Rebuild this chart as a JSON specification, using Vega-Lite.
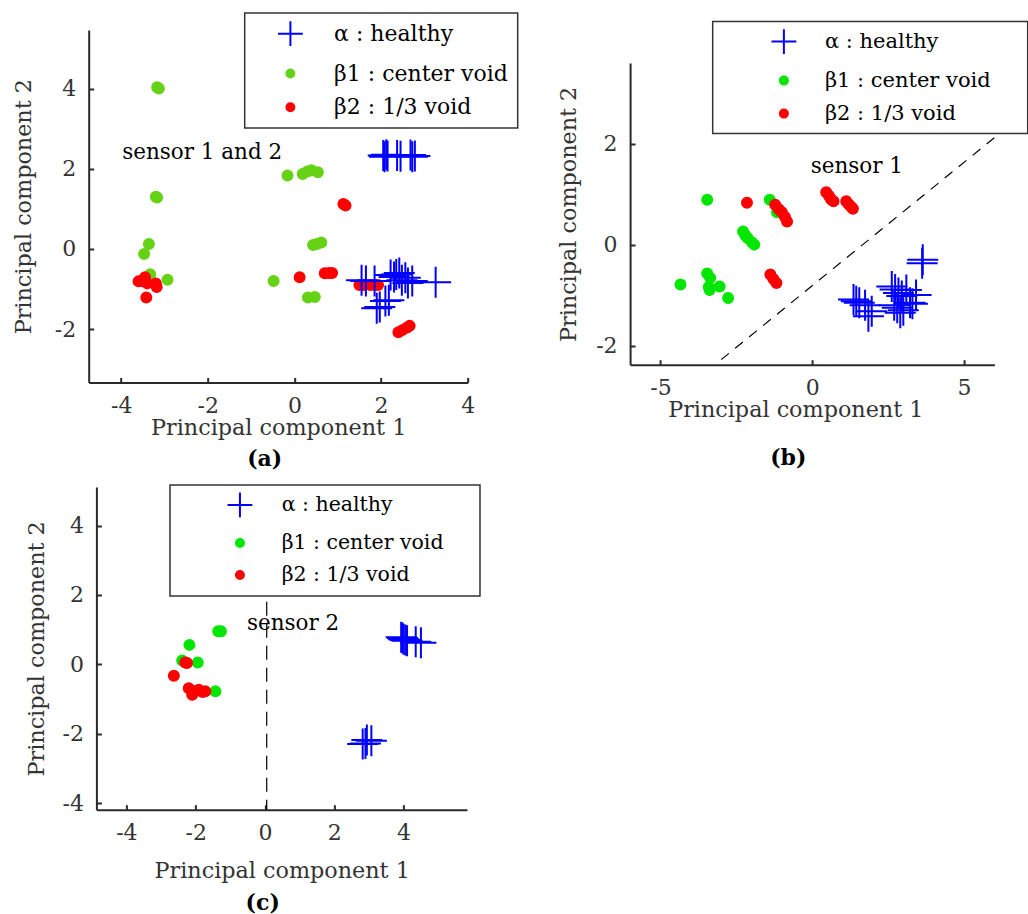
{
  "$schema": "https://vega.github.io/schema/vega-lite/v6.json",
  "padding": {"left": 12.7, "top": 12, "right": 0, "bottom": 0},
  "config": {
    "view": {"stroke": null},
    "font": "DejaVu Serif",
    "axis": {
      "grid": false,
      "domainColor": "#2a2a2a",
      "domainWidth": 2,
      "tickColor": "#2a2a2a",
      "tickWidth": 2,
      "tickSize": -5,
      "labelFont": "DejaVu Serif",
      "labelFontSize": 22,
      "labelColor": "#333",
      "labelFlush": false,
      "labelPadding": 18,
      "labelExpr": "'' + datum.value",
      "titleFont": "DejaVu Serif",
      "titleFontSize": 22.3,
      "titleFontWeight": "normal",
      "titleColor": "#333",
      "titlePadding": 0
    },
    "legend": {
      "title": null,
      "orient": "none",
      "strokeColor": "#333",
      "strokeWidth": 1.5,
      "fillColor": "white",
      "labelFont": "DejaVu Serif",
      "labelColor": "black",
      "labelLimit": 600,
      "symbolStrokeWidth": 2,
      "symbolSize": 64
    },
    "title": {"font": "DejaVu Serif", "fontSize": 22, "fontWeight": "bold", "color": "#000", "orient": "bottom"}
  },
  "resolve": {"scale": {"fill": "independent", "stroke": "independent", "shape": "independent"}, "legend": {"fill": "independent", "stroke": "independent", "shape": "independent"}},
  "vconcat": [
    {
      "resolve": {"scale": {"fill": "independent", "stroke": "independent", "shape": "independent"}, "legend": {"fill": "independent", "stroke": "independent", "shape": "independent"}},
      "hconcat": [
        {
          "width": 379,
          "height": 352.4,
          "title": {"text": "(a)", "orient": "bottom", "offset": 10, "dx": -13.5},
          "encoding": {
            "x": {"field": "x", "type": "quantitative", "scale": {"domain": [-4.75, 4.0], "nice": false, "zero": false}, "axis": {"values": [-4, -2, 0, 2, 4], "title": "Principal component 1"}},
            "y": {"field": "y", "type": "quantitative", "scale": {"domain": [-3.33, 5.46], "nice": false, "zero": false}, "axis": {"values": [-2, 0, 2, 4], "title": "Principal component 2", "titlePadding": 18.3}}
          },
          "layer": [
            {
              "data": {"values": [
                {"x": -3.17, "y": 4.03, "cls": "β1 : center void"},
                {"x": -3.13, "y": 4.0, "cls": "β1 : center void"},
                {"x": -3.2, "y": 1.3, "cls": "β1 : center void"},
                {"x": -3.17, "y": 1.28, "cls": "β1 : center void"},
                {"x": -3.36, "y": 0.12, "cls": "β1 : center void"},
                {"x": -3.47, "y": -0.13, "cls": "β1 : center void"},
                {"x": -3.33, "y": -0.63, "cls": "β1 : center void"},
                {"x": -2.93, "y": -0.77, "cls": "β1 : center void"},
                {"x": -0.48, "y": -0.8, "cls": "β1 : center void"},
                {"x": -0.16, "y": 1.83, "cls": "β1 : center void"},
                {"x": 0.19, "y": 1.87, "cls": "β1 : center void"},
                {"x": 0.3, "y": 1.93, "cls": "β1 : center void"},
                {"x": 0.39, "y": 1.96, "cls": "β1 : center void"},
                {"x": 0.54, "y": 1.91, "cls": "β1 : center void"},
                {"x": 0.43, "y": 0.1, "cls": "β1 : center void"},
                {"x": 0.52, "y": 0.12, "cls": "β1 : center void"},
                {"x": 0.62, "y": 0.16, "cls": "β1 : center void"},
                {"x": 0.31, "y": -1.21, "cls": "β1 : center void"},
                {"x": 0.47, "y": -1.2, "cls": "β1 : center void"},
                {"x": -3.6, "y": -0.81, "cls": "β2 : 1/3 void"},
                {"x": -3.52, "y": -0.8, "cls": "β2 : 1/3 void"},
                {"x": -3.45, "y": -0.71, "cls": "β2 : 1/3 void"},
                {"x": -3.4, "y": -0.86, "cls": "β2 : 1/3 void"},
                {"x": -3.2, "y": -0.86, "cls": "β2 : 1/3 void"},
                {"x": -3.18, "y": -0.95, "cls": "β2 : 1/3 void"},
                {"x": -3.42, "y": -1.21, "cls": "β2 : 1/3 void"},
                {"x": 0.12, "y": -0.71, "cls": "β2 : 1/3 void"},
                {"x": 0.7, "y": -0.61, "cls": "β2 : 1/3 void"},
                {"x": 0.79, "y": -0.6, "cls": "β2 : 1/3 void"},
                {"x": 0.87, "y": -0.6, "cls": "β2 : 1/3 void"},
                {"x": 1.13, "y": 1.12, "cls": "β2 : 1/3 void"},
                {"x": 1.18, "y": 1.08, "cls": "β2 : 1/3 void"},
                {"x": 1.5, "y": -0.9, "cls": "β2 : 1/3 void"},
                {"x": 1.6, "y": -0.9, "cls": "β2 : 1/3 void"},
                {"x": 1.75, "y": -0.9, "cls": "β2 : 1/3 void"},
                {"x": 1.85, "y": -0.9, "cls": "β2 : 1/3 void"},
                {"x": 1.93, "y": -0.9, "cls": "β2 : 1/3 void"},
                {"x": 2.4, "y": -2.08, "cls": "β2 : 1/3 void"},
                {"x": 2.5, "y": -2.02, "cls": "β2 : 1/3 void"},
                {"x": 2.6, "y": -1.96, "cls": "β2 : 1/3 void"},
                {"x": 2.66, "y": -1.92, "cls": "β2 : 1/3 void"},
                {"x": 2.05, "y": 2.33, "cls": "α : healthy"},
                {"x": 2.08, "y": 2.3, "cls": "α : healthy"},
                {"x": 2.12, "y": 2.35, "cls": "α : healthy"},
                {"x": 2.15, "y": 2.32, "cls": "α : healthy"},
                {"x": 2.37, "y": 2.33, "cls": "α : healthy"},
                {"x": 2.45, "y": 2.31, "cls": "α : healthy"},
                {"x": 2.68, "y": 2.34, "cls": "α : healthy"},
                {"x": 2.72, "y": 2.3, "cls": "α : healthy"},
                {"x": 2.78, "y": 2.32, "cls": "α : healthy"},
                {"x": 1.55, "y": -0.78, "cls": "α : healthy"},
                {"x": 1.65, "y": -0.8, "cls": "α : healthy"},
                {"x": 1.85, "y": -0.8, "cls": "α : healthy"},
                {"x": 1.9, "y": -1.48, "cls": "α : healthy"},
                {"x": 1.97, "y": -1.45, "cls": "α : healthy"},
                {"x": 2.1, "y": -1.3, "cls": "α : healthy"},
                {"x": 2.18, "y": -1.28, "cls": "α : healthy"},
                {"x": 2.22, "y": -0.65, "cls": "α : healthy"},
                {"x": 2.3, "y": -0.7, "cls": "α : healthy"},
                {"x": 2.35, "y": -0.64, "cls": "α : healthy"},
                {"x": 2.42, "y": -0.6, "cls": "α : healthy"},
                {"x": 2.48, "y": -0.78, "cls": "α : healthy"},
                {"x": 2.56, "y": -0.72, "cls": "α : healthy"},
                {"x": 2.62, "y": -0.85, "cls": "α : healthy"},
                {"x": 2.72, "y": -0.8, "cls": "α : healthy"},
                {"x": 3.26, "y": -0.83, "cls": "α : healthy"}
              ]},
              "mark": {"type": "point", "filled": true, "size": 100, "strokeWidth": 2, "opacity": 1},
              "encoding": {
                "fill": {"field": "cls", "type": "nominal", "scale": {"domain": ["α : healthy", "β1 : center void", "β2 : 1/3 void"], "range": ["#0000ff", "#66d216", "#ff0000"]},
                  "legend": {"legendX": 156, "legendY": -17, "padding": 9.7, "symbolOffset": 25, "labelOffset": 32.7, "labelFontSize": 22, "rowPadding": 11.8}},
                "stroke": {"field": "cls", "type": "nominal", "scale": {"domain": ["α : healthy", "β1 : center void", "β2 : 1/3 void"], "range": ["#0000ff", "#66d216", "#ff0000"]},
                  "legend": {"legendX": 156, "legendY": -17, "padding": 9.7, "symbolOffset": 25, "labelOffset": 32.7, "labelFontSize": 22, "rowPadding": 11.8}},
                "shape": {"field": "cls", "type": "nominal", "scale": {"domain": ["α : healthy", "β1 : center void", "β2 : 1/3 void"], "range": ["M-3.1,0H3.1M0,-3.1V3.1", "circle", "circle"]},
                  "legend": {"legendX": 156, "legendY": -17, "padding": 9.7, "symbolOffset": 25, "labelOffset": 32.7, "labelFontSize": 22, "rowPadding": 11.8}}
              }
            },
            {
              "data": {"values": [{"x": -2.13, "y": 2.23, "t": "sensor 1 and 2"}]},
              "mark": {"type": "text", "font": "DejaVu Serif", "fontSize": 21.5, "baseline": "alphabetic", "align": "center", "color": "#000"},
              "encoding": {"text": {"field": "t"}}
            }
          ]
        },
        {
          "resolve": {"scale": {"fill": "independent", "stroke": "independent", "shape": "independent"}, "legend": {"fill": "independent", "stroke": "independent", "shape": "independent"}},
          "vconcat": [
            {"width": 1, "height": 1, "data": {"values": []}, "mark": "point"},
            {
              "width": 364.3,
              "height": 301.7,
              "title": {"text": "(b)", "orient": "bottom", "offset": 27.5, "dx": -24},
              "encoding": {
                "x": {"field": "x", "type": "quantitative", "scale": {"domain": [-6, 6], "nice": false, "zero": false}, "axis": {"values": [-5, 0, 5], "title": "Principal component 1", "titleX": 165.2}},
                "y": {"field": "y", "type": "quantitative", "scale": {"domain": [-2.38, 3.6], "nice": false, "zero": false}, "axis": {"values": [-2, 0, 2], "title": "Principal component 2", "titlePadding": 15}}
              },
              "layer": [
                {
                  "data": {"values": [{"x": -3.0, "y": -2.28}, {"x": 6.0, "y": 2.12}]},
                  "mark": {"type": "line", "color": "#000", "strokeWidth": 1.2, "strokeDash": [10, 8]},
                  "encoding": {}
                },
                {
                  "data": {"values": [
                    {"x": -3.46, "y": 0.89, "cls": "β1 : center void"},
                    {"x": -1.4, "y": 0.89, "cls": "β1 : center void"},
                    {"x": -1.16, "y": 0.64, "cls": "β1 : center void"},
                    {"x": -2.28, "y": 0.26, "cls": "β1 : center void"},
                    {"x": -2.2, "y": 0.18, "cls": "β1 : center void"},
                    {"x": -2.13, "y": 0.13, "cls": "β1 : center void"},
                    {"x": -1.98, "y": 0.04, "cls": "β1 : center void"},
                    {"x": -1.91, "y": 0.0, "cls": "β1 : center void"},
                    {"x": -3.46, "y": -0.57, "cls": "β1 : center void"},
                    {"x": -3.36, "y": -0.66, "cls": "β1 : center void"},
                    {"x": -3.41, "y": -0.84, "cls": "β1 : center void"},
                    {"x": -3.38, "y": -0.9, "cls": "β1 : center void"},
                    {"x": -3.05, "y": -0.83, "cls": "β1 : center void"},
                    {"x": -4.34, "y": -0.79, "cls": "β1 : center void"},
                    {"x": -2.77, "y": -1.06, "cls": "β1 : center void"},
                    {"x": -2.15, "y": 0.83, "cls": "β2 : 1/3 void"},
                    {"x": -1.22, "y": 0.79, "cls": "β2 : 1/3 void"},
                    {"x": -1.1, "y": 0.7, "cls": "β2 : 1/3 void"},
                    {"x": -1.0, "y": 0.64, "cls": "β2 : 1/3 void"},
                    {"x": -0.9, "y": 0.55, "cls": "β2 : 1/3 void"},
                    {"x": -0.83, "y": 0.46, "cls": "β2 : 1/3 void"},
                    {"x": -1.38, "y": -0.59, "cls": "β2 : 1/3 void"},
                    {"x": -1.28, "y": -0.68, "cls": "β2 : 1/3 void"},
                    {"x": -1.18, "y": -0.76, "cls": "β2 : 1/3 void"},
                    {"x": 0.46, "y": 1.04, "cls": "β2 : 1/3 void"},
                    {"x": 0.55, "y": 0.97, "cls": "β2 : 1/3 void"},
                    {"x": 0.62, "y": 0.9, "cls": "β2 : 1/3 void"},
                    {"x": 0.7, "y": 0.86, "cls": "β2 : 1/3 void"},
                    {"x": 1.12, "y": 0.86, "cls": "β2 : 1/3 void"},
                    {"x": 1.2, "y": 0.8, "cls": "β2 : 1/3 void"},
                    {"x": 1.28, "y": 0.75, "cls": "β2 : 1/3 void"},
                    {"x": 1.34, "y": 0.71, "cls": "β2 : 1/3 void"},
                    {"x": 3.64, "y": -0.3, "cls": "α : healthy"},
                    {"x": 3.62, "y": -0.37, "cls": "α : healthy"},
                    {"x": 1.36, "y": -1.09, "cls": "α : healthy"},
                    {"x": 1.45, "y": -1.12, "cls": "α : healthy"},
                    {"x": 1.55, "y": -1.15, "cls": "α : healthy"},
                    {"x": 1.74, "y": -1.2, "cls": "α : healthy"},
                    {"x": 1.96, "y": -1.32, "cls": "α : healthy"},
                    {"x": 1.85, "y": -1.42, "cls": "α : healthy"},
                    {"x": 2.62, "y": -0.83, "cls": "α : healthy"},
                    {"x": 2.73, "y": -0.89, "cls": "α : healthy"},
                    {"x": 2.84, "y": -0.96, "cls": "α : healthy"},
                    {"x": 2.95, "y": -1.02, "cls": "α : healthy"},
                    {"x": 3.22, "y": -1.15, "cls": "α : healthy"},
                    {"x": 3.42, "y": -1.0, "cls": "α : healthy"},
                    {"x": 2.8, "y": -1.25, "cls": "α : healthy"},
                    {"x": 2.9, "y": -1.35, "cls": "α : healthy"},
                    {"x": 3.0, "y": -1.3, "cls": "α : healthy"},
                    {"x": 2.7, "y": -1.2, "cls": "α : healthy"},
                    {"x": 3.1, "y": -0.9, "cls": "α : healthy"},
                    {"x": 3.3, "y": -1.17, "cls": "α : healthy"}
                  ]},
                  "mark": {"type": "point", "filled": true, "size": 100, "strokeWidth": 2, "opacity": 1},
                  "encoding": {
                    "fill": {"field": "cls", "type": "nominal", "scale": {"domain": ["α : healthy", "β1 : center void", "β2 : 1/3 void"], "range": ["#0000ff", "#00e600", "#ff0000"]},
                      "legend": {"legendX": 82.6, "legendY": -41.6, "padding": 9.7, "symbolOffset": 51, "labelOffset": 30.5, "labelFontSize": 21, "rowPadding": 11, "labelExpr": "datum.label + '\u00a0\u00a0\u00a0\u00a0\u200b'"}},
                    "stroke": {"field": "cls", "type": "nominal", "scale": {"domain": ["α : healthy", "β1 : center void", "β2 : 1/3 void"], "range": ["#0000ff", "#00e600", "#ff0000"]},
                      "legend": {"legendX": 82.6, "legendY": -41.6, "padding": 9.7, "symbolOffset": 51, "labelOffset": 30.5, "labelFontSize": 21, "rowPadding": 11, "labelExpr": "datum.label + '\u00a0\u00a0\u00a0\u00a0\u200b'"}},
                    "shape": {"field": "cls", "type": "nominal", "scale": {"domain": ["α : healthy", "β1 : center void", "β2 : 1/3 void"], "range": ["M-3.1,0H3.1M0,-3.1V3.1", "circle", "circle"]},
                      "legend": {"legendX": 82.6, "legendY": -41.6, "padding": 9.7, "symbolOffset": 51, "labelOffset": 30.5, "labelFontSize": 21, "rowPadding": 11, "labelExpr": "datum.label + '\u00a0\u00a0\u00a0\u00a0\u200b'"}}
                  }
                },
                {
                  "data": {"values": [{"x": 1.47, "y": 1.42, "t": "sensor 1"}]},
                  "mark": {"type": "text", "font": "DejaVu Serif", "fontSize": 21.5, "baseline": "alphabetic", "align": "center", "color": "#000"},
                  "encoding": {"text": {"field": "t"}}
                }
              ]
            }
          ],
          "spacing": -11
        }
      ],
      "spacing": 38.4
    },
    {
      "resolve": {"scale": {"fill": "independent", "stroke": "independent", "shape": "independent"}, "legend": {"fill": "independent", "stroke": "independent", "shape": "independent"}},
      "hconcat": [
        {"width": 1, "height": 1, "data": {"values": []}, "mark": "point"},
        {
          "width": 370.6,
          "height": 322.7,
          "title": {"text": "(c)", "orient": "bottom", "offset": 11, "dx": -19},
          "encoding": {
            "x": {"field": "x", "type": "quantitative", "scale": {"domain": [-4.865, 5.83], "nice": false, "zero": false}, "axis": {"values": [-4, -2, 0, 2, 4], "title": "Principal component 1", "titlePadding": 16}},
            "y": {"field": "y", "type": "quantitative", "scale": {"domain": [-4.19, 5.11], "nice": false, "zero": false}, "axis": {"values": [-4, -2, 0, 2, 4], "title": "Principal component 2", "titlePadding": 13.7}}
          },
          "layer": [
            {
              "data": {"values": [{"x": 0.05, "y": 1.8, "y2": -4.19}]},
              "mark": {"type": "rule", "color": "#000", "strokeWidth": 1.2, "strokeDash": [14, 8]},
              "encoding": {"y2": {"field": "y2"}}
            },
            {
              "data": {"values": [
                {"x": -1.35, "y": 0.95, "cls": "β1 : center void"},
                {"x": -1.27, "y": 0.95, "cls": "β1 : center void"},
                {"x": -2.18, "y": 0.56, "cls": "β1 : center void"},
                {"x": -2.39, "y": 0.11, "cls": "β1 : center void"},
                {"x": -1.94, "y": 0.05, "cls": "β1 : center void"},
                {"x": -1.43, "y": -0.78, "cls": "β1 : center void"},
                {"x": -2.3, "y": 0.05, "cls": "β2 : 1/3 void"},
                {"x": -2.25, "y": 0.04, "cls": "β2 : 1/3 void"},
                {"x": -2.63, "y": -0.33, "cls": "β2 : 1/3 void"},
                {"x": -2.2, "y": -0.69, "cls": "β2 : 1/3 void"},
                {"x": -2.06, "y": -0.78, "cls": "β2 : 1/3 void"},
                {"x": -1.91, "y": -0.73, "cls": "β2 : 1/3 void"},
                {"x": -1.8, "y": -0.8, "cls": "β2 : 1/3 void"},
                {"x": -1.72, "y": -0.78, "cls": "β2 : 1/3 void"},
                {"x": -2.1, "y": -0.88, "cls": "β2 : 1/3 void"},
                {"x": 3.93, "y": 0.78, "cls": "α : healthy"},
                {"x": 3.97, "y": 0.76, "cls": "α : healthy"},
                {"x": 4.0, "y": 0.72, "cls": "α : healthy"},
                {"x": 4.05, "y": 0.7, "cls": "α : healthy"},
                {"x": 4.1, "y": 0.68, "cls": "α : healthy"},
                {"x": 4.35, "y": 0.65, "cls": "α : healthy"},
                {"x": 4.5, "y": 0.62, "cls": "α : healthy"},
                {"x": 2.82, "y": -2.3, "cls": "α : healthy"},
                {"x": 2.94, "y": -2.18, "cls": "α : healthy"},
                {"x": 3.07, "y": -2.2, "cls": "α : healthy"},
                {"x": 2.9, "y": -2.28, "cls": "α : healthy"}
              ]},
              "mark": {"type": "point", "filled": true, "size": 100, "strokeWidth": 2, "opacity": 1},
              "encoding": {
                "fill": {"field": "cls", "type": "nominal", "scale": {"domain": ["α : healthy", "β1 : center void", "β2 : 1/3 void"], "range": ["#0000ff", "#00e600", "#ff0000"]},
                  "legend": {"legendX": 73.6, "legendY": -2, "padding": 9.7, "symbolOffset": 50, "labelOffset": 31.5, "labelFontSize": 20.5, "rowPadding": 11, "labelExpr": "datum.label + '\u00a0\u00a0\u00a0\u00a0\u200b'"}},
                "stroke": {"field": "cls", "type": "nominal", "scale": {"domain": ["α : healthy", "β1 : center void", "β2 : 1/3 void"], "range": ["#0000ff", "#00e600", "#ff0000"]},
                  "legend": {"legendX": 73.6, "legendY": -2, "padding": 9.7, "symbolOffset": 50, "labelOffset": 31.5, "labelFontSize": 20.5, "rowPadding": 11, "labelExpr": "datum.label + '\u00a0\u00a0\u00a0\u00a0\u200b'"}},
                "shape": {"field": "cls", "type": "nominal", "scale": {"domain": ["α : healthy", "β1 : center void", "β2 : 1/3 void"], "range": ["M-3.1,0H3.1M0,-3.1V3.1", "circle", "circle"]},
                  "legend": {"legendX": 73.6, "legendY": -2, "padding": 9.7, "symbolOffset": 50, "labelOffset": 31.5, "labelFontSize": 20.5, "rowPadding": 11, "labelExpr": "datum.label + '\u00a0\u00a0\u00a0\u00a0\u200b'"}}
              }
            },
            {
              "data": {"values": [{"x": 0.81, "y": 0.99, "t": "sensor 2"}]},
              "mark": {"type": "text", "font": "DejaVu Serif", "fontSize": 21.5, "baseline": "alphabetic", "align": "center", "color": "#000"},
              "encoding": {"text": {"field": "t"}}
            }
          ]
        }
      ],
      "spacing": -65.3
    }
  ],
  "spacing": 14
}
